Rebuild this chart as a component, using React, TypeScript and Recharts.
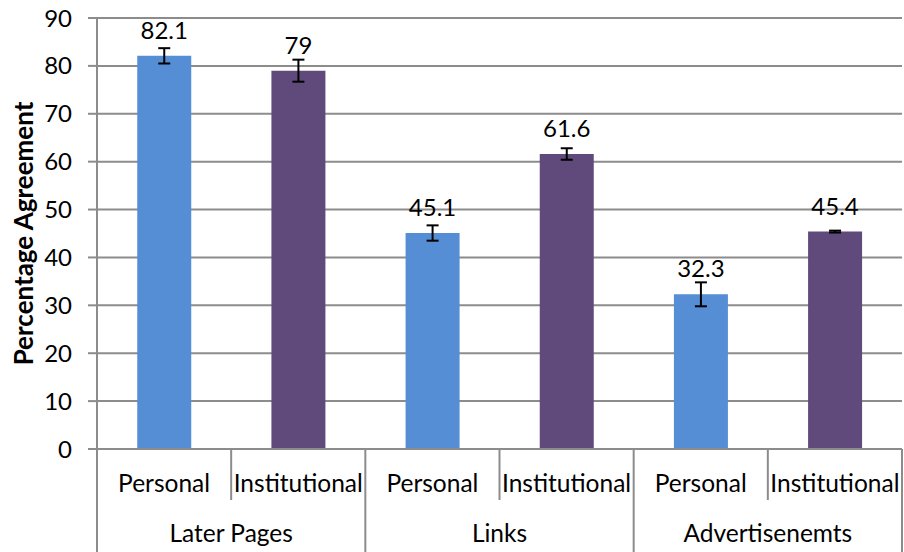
import { Bar, BarChart, CartesianGrid, Cell, ErrorBar, LabelList, XAxis, YAxis } from "recharts";

const GROUPS = ["Later Pages", "Links", "Advertisenemts"];
const SUBS = ["Personal", "Institutional"];
const VALUES = [82.1, 79, 45.1, 61.6, 32.3, 45.4];
const ERRORS = [1.6, 2.3, 1.6, 1.2, 2.5, 0.2];
const Y_TICKS = [0, 10, 20, 30, 40, 50, 60, 70, 80, 90];

const COLORS = ["#558ED5", "#604A7B"];
const GRID = "#8c8c8c";
const FONT = "Lato, 'Open Sans', sans-serif";

const data = VALUES.map((value, i) => ({
    group: GROUPS[Math.floor(i / 2)],
    sub: SUBS[i % 2],
    value,
    err: ERRORS[i],
}));

const WIDTH = 904;
const HEIGHT = 552;
const Y_AXIS_W = 97;
const X_AXIS_H = 103;
const MARGIN = { top: 18, right: 2, left: 0, bottom: 0 };

const SubTick = (props: any) => {
    const { x, y, payload, index } = props;
    const plotW = WIDTH - Y_AXIS_W - MARGIN.right;
    const half = payload?.offset ? payload.offset : plotW / data.length / 2;
    const i = index ?? payload.index;
    const row = data[i];
    const endOfGroup = i % 2 === 1;
    return (
        <g>
            {i === 0 && (
                <line x1={x - half} y1={y} x2={x - half} y2={y + X_AXIS_H} stroke={GRID} strokeWidth={2} />
            )}
            <line
                x1={x + half}
                y1={y}
                x2={x + half}
                y2={y + (endOfGroup ? X_AXIS_H : 51)}
                stroke={GRID}
                strokeWidth={2}
            />
            <text x={x} y={y + 33} textAnchor="middle" dominantBaseline="central" fontSize={24.5} fill="#000" fontFamily={FONT}>
                {row.sub}
            </text>
            {endOfGroup && (
                <text x={x - half} y={y + 83} textAnchor="middle" dominantBaseline="central" fontSize={24.5} fill="#000" fontFamily={FONT}>
                    {row.group}
                </text>
            )}
        </g>
    );
};

const YTitle = ({ viewBox }: any) => {
    const cy = viewBox.y + viewBox.height / 2;
    return (
        <text
            x={23}
            y={cy}
            transform={`rotate(-90, 23, ${cy})`}
            textAnchor="middle"
            dominantBaseline="central"
            fontSize={26}
            fontWeight="bold"
            fontFamily={FONT}
            fill="#000"
        >
            Percentage Agreement
        </text>
    );
};

const App = () => {
    return (
        <div style={{ position: "absolute", left: 0, top: 0, background: "#fff" }}>
            <BarChart width={WIDTH} height={HEIGHT} data={data} margin={MARGIN} barCategoryGap="30%">
                <CartesianGrid vertical={false} stroke={GRID} strokeWidth={2} />
                <XAxis
                    dataKey="sub"
                    interval={0}
                    height={X_AXIS_H}
                    tickSize={0}
                    tickMargin={0}
                    tickLine={false}
                    axisLine={{ stroke: GRID, strokeWidth: 2 }}
                    tick={<SubTick />}
                />
                <YAxis
                    width={Y_AXIS_W}
                    domain={[0, 90]}
                    ticks={Y_TICKS}
                    interval={0}
                    tickSize={9}
                    tickMargin={16}
                    axisLine={{ stroke: GRID, strokeWidth: 2 }}
                    tickLine={{ stroke: GRID, strokeWidth: 2 }}
                    tick={{ fontSize: 24, fill: "#000", fontFamily: FONT }}
                    label={<YTitle />}
                />
                <Bar dataKey="value" isAnimationActive={false}>
                    {data.map((d, i) => (
                        <Cell key={i} fill={COLORS[i % 2]} />
                    ))}
                    <ErrorBar dataKey="err" width={6} stroke="#000" strokeWidth={2} direction="y" />
                    <LabelList dataKey="value" position="top" offset={17} fontSize={24} fill="#000" fontFamily={FONT} />
                </Bar>
            </BarChart>
        </div>
    );
};

export default App;
